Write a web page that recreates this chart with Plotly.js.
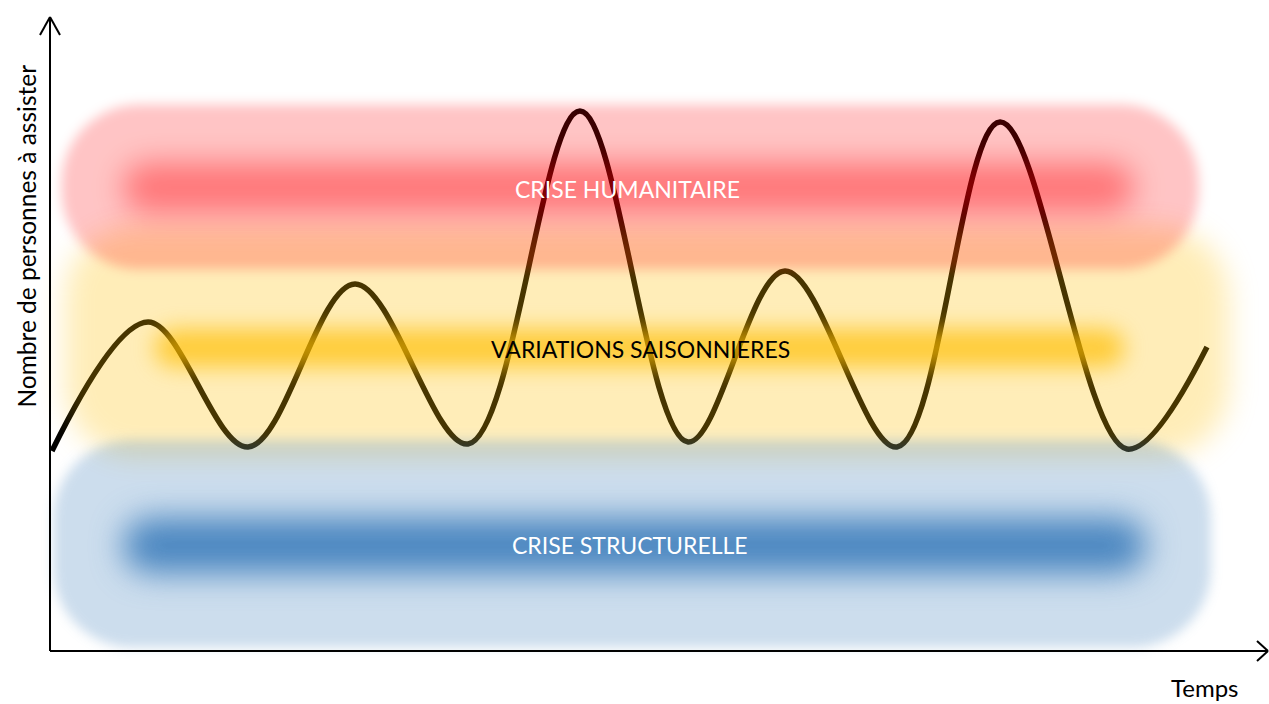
<!DOCTYPE html>
<html>
<head>
<meta charset="utf-8">
<script src="https://cdn.plot.ly/plotly-3.0.1.min.js"></script>
<style>
html,body{margin:0;padding:0;background:#fff;}
#chart{width:1269px;height:704px;}
</style>
</head>
<body>
<div id="chart"></div>
<script>
// ---- data (time axis 0..100, people axis 0..100) ----
const timeX = [0.16, 8.05, 16.26, 25.04, 34.32, 43.51, 52.38, 60.34, 69.54, 78.0, 88.42, 94.99];
const peopleY = [31.55, 51.89, 32.18, 57.89, 32.65, 85.17, 32.97, 59.94, 32.18, 83.44, 31.86, 47.95];
const bandLabels = ['CRISE HUMANITAIRE', 'VARIATIONS SAISONNIERES', 'CRISE STRUCTURELLE'];
const bandLabelX = [47.45, 48.5, 47.6];
const bandLabelY = [72.9, 47.6, 16.7];
const xTitle = 'Temps';
const yTitle = 'Nombre de personnes à assister';

// ---- band styles (data-unit extents) ----
const bandStyles = [
  { rgb: '255,190,0', aOuter: 0.28, aCore: 0.69,
    outer: { x0: 1.2, x1: 96.8, yTop: 66.9, yBot: 30.7, r: 70, blur: 14 },
    core:  { x0: 8.6, x1: 88.2, yTop: 50.8, yBot: 44.8, blur: 11 } },
  { rgb: '255,0,6', aOuter: 0.23, aCore: 0.40,
    outer: { x0: 0.95, x1: 94.3, yTop: 86.2, yBot: 60.2, r: 78, blur: 6 },
    core:  { x0: 6.0, x1: 89.0, yTop: 77.0, yBot: 69.2, blur: 15 } },
  { rgb: '46,116,183', aOuter: 0.245, aCore: 0.82,
    outer: { x0: 0.3, x1: 95.3, yTop: 33.3, yBot: 0.6, r: 78, blur: 6 },
    core:  { x0: 6.0, x1: 90.0, yTop: 21.0, yBot: 12.3, blur: 16 } }
];

const FONT = 'Lato, "Open Sans", sans-serif';

const trace = {
  x: timeX, y: peopleY, type: 'scatter', mode: 'lines',
  line: { color: '#000', width: 5.5, shape: 'spline', smoothing: 1 },
  hoverinfo: 'skip', showlegend: false
};

const annotations = bandLabels.map((t, i) => ({
  x: bandLabelX[i], y: bandLabelY[i], xref: 'x', yref: 'y', text: t, showarrow: false,
  font: { family: FONT, size: 23, color: i === 1 ? '#000' : '#fff' }, xanchor: 'center', yanchor: 'middle'
}));
annotations.push({
  x: 0.948, y: -53 / 634, xref: 'paper', yref: 'paper', text: xTitle, showarrow: false,
  font: { family: FONT, size: 24, color: '#000' }, xanchor: 'center', yanchor: 'bottom'
});
annotations.push({
  x: -0.019, y: 0.655, xref: 'paper', yref: 'paper', text: yTitle, showarrow: false, textangle: -90,
  font: { family: FONT, size: 24.5, color: '#000' }, xanchor: 'center', yanchor: 'middle'
});

const axLine = { color: '#000', width: 2 };
const shapes = [
  { type: 'line', xref: 'paper', yref: 'paper', x0: 0, y0: 0, x1: 0, y1: 1, line: axLine, layer: 'above' },
  { type: 'line', xref: 'paper', yref: 'paper', x0: 0, y0: 0, x1: 1, y1: 0, line: axLine, layer: 'above' },
  { type: 'line', xref: 'paper', yref: 'paper', xsizemode: 'pixel', ysizemode: 'pixel', xanchor: 0, yanchor: 1,
    x0: -10, y0: -18, x1: 0, y1: 0, line: axLine, layer: 'above' },
  { type: 'line', xref: 'paper', yref: 'paper', xsizemode: 'pixel', ysizemode: 'pixel', xanchor: 0, yanchor: 1,
    x0: 10, y0: -18, x1: 0, y1: 0, line: axLine, layer: 'above' },
  { type: 'line', xref: 'paper', yref: 'paper', xsizemode: 'pixel', ysizemode: 'pixel', xanchor: 1, yanchor: 0,
    x0: -11, y0: 10, x1: 0, y1: 0, line: axLine, layer: 'above' },
  { type: 'line', xref: 'paper', yref: 'paper', xsizemode: 'pixel', ysizemode: 'pixel', xanchor: 1, yanchor: 0,
    x0: -11, y0: -10, x1: 0, y1: 0, line: axLine, layer: 'above' }
];

const layout = {
  width: 1269, height: 704,
  margin: { l: 50, r: 1, t: 17, b: 53, pad: 0 },
  paper_bgcolor: '#fff', plot_bgcolor: '#fff',
  xaxis: { range: [0, 100], showgrid: false, zeroline: false, showticklabels: false, ticks: '', showline: false, fixedrange: true },
  yaxis: { range: [0, 100], showgrid: false, zeroline: false, showticklabels: false, ticks: '', showline: false, fixedrange: true },
  annotations: annotations,
  shapes: shapes,
  showlegend: false
};

function roundRectPath(ctx, x, y, w, h, r) {
  r = Math.min(r, w / 2, h / 2);
  ctx.beginPath();
  ctx.moveTo(x + r, y);
  ctx.lineTo(x + w - r, y);
  ctx.arcTo(x + w, y, x + w, y + r, r);
  ctx.lineTo(x + w, y + h - r);
  ctx.arcTo(x + w, y + h, x + w - r, y + h, r);
  ctx.lineTo(x + r, y + h);
  ctx.arcTo(x, y + h, x, y + h - r, r);
  ctx.lineTo(x, y + r);
  ctx.arcTo(x, y, x + r, y, r);
  ctx.closePath();
}

Plotly.newPlot('chart', [trace], layout, { displayModeBar: false, staticPlot: true }).then(gd => {
  const fl = gd._fullLayout, sz = fl._size, xa = fl.xaxis, ya = fl.yaxis;
  const W = fl.width, H = fl.height;
  const px = v => sz.l + xa.l2p(v);
  const py = v => sz.t + ya.l2p(v);
  const cv = document.createElement('canvas');
  cv.width = W; cv.height = H;
  const ctx = cv.getContext('2d');
  bandStyles.forEach(b => {
    const o = b.outer, c = b.core;
    ctx.filter = 'blur(' + o.blur + 'px)';
    ctx.fillStyle = 'rgba(' + b.rgb + ',' + b.aOuter + ')';
    roundRectPath(ctx, px(o.x0), py(o.yTop), px(o.x1) - px(o.x0), py(o.yBot) - py(o.yTop), o.r);
    ctx.fill();
    ctx.filter = 'blur(' + c.blur + 'px)';
    ctx.fillStyle = 'rgba(' + b.rgb + ',' + b.aCore + ')';
    const ch = py(c.yBot) - py(c.yTop);
    roundRectPath(ctx, px(c.x0), py(c.yTop), px(c.x1) - px(c.x0), ch, ch / 2);
    ctx.fill();
  });
  ctx.filter = 'none';
  const img = {
    source: cv.toDataURL('image/png'), xref: 'paper', yref: 'paper',
    x: -sz.l / sz.w, y: 1 + sz.t / sz.h, sizex: W / sz.w, sizey: H / sz.h,
    xanchor: 'left', yanchor: 'top', sizing: 'stretch', layer: 'above', opacity: 1
  };
  return Plotly.relayout(gd, { images: [img] });
});
</script>
</body>
</html>
